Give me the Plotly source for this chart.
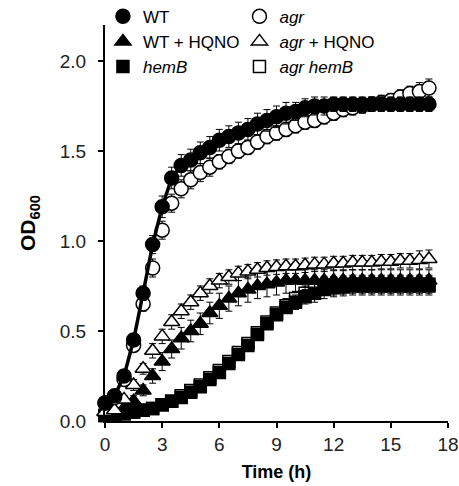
import plotly.graph_objects as go

time_h = [0, 0.5, 1, 1.5, 2, 2.5, 3, 3.5, 4, 4.5, 5, 5.5, 6, 6.5, 7, 7.5, 8, 8.5,
          9, 9.5, 10, 10.5, 11, 11.5, 12, 12.5, 13, 13.5, 14, 14.5, 15, 15.5, 16, 16.5, 17]

wt = [0.10, 0.14, 0.25, 0.45, 0.71, 0.98, 1.19, 1.35, 1.42, 1.45,
      1.49, 1.52, 1.56, 1.58, 1.60, 1.62, 1.65, 1.67, 1.69, 1.71,
      1.72, 1.74, 1.75, 1.75, 1.76, 1.76, 1.76, 1.76, 1.76, 1.76,
      1.76, 1.76, 1.76, 1.76, 1.76]
wt_err = [0.01, 0.01, 0.02, 0.03, 0.04, 0.05, 0.06, 0.06, 0.06, 0.06,
          0.06, 0.06, 0.06, 0.06, 0.06, 0.06, 0.06, 0.06, 0.06, 0.06,
          0.05, 0.05, 0.05, 0.05, 0.04, 0.04, 0.04, 0.04, 0.04, 0.04,
          0.04, 0.04, 0.04, 0.04, 0.04]

agr = [0.10, 0.13, 0.23, 0.42, 0.65, 0.85, 1.06, 1.21, 1.29, 1.34,
       1.38, 1.41, 1.44, 1.47, 1.50, 1.52, 1.55, 1.58, 1.60, 1.62,
       1.64, 1.66, 1.67, 1.69, 1.71, 1.73, 1.74, 1.75, 1.76, 1.77,
       1.78, 1.80, 1.82, 1.83, 1.85]
agr_err = [0.01, 0.01, 0.02, 0.03, 0.04, 0.05, 0.05, 0.05, 0.05, 0.05,
           0.05, 0.05, 0.04, 0.04, 0.04, 0.04, 0.04, 0.04, 0.04, 0.04,
           0.04, 0.04, 0.04, 0.04, 0.04, 0.04, 0.04, 0.04, 0.04, 0.04,
           0.04, 0.04, 0.04, 0.05, 0.05]

wt_hqno = [0.05, 0.05, 0.07, 0.11, 0.17, 0.25, 0.33, 0.40, 0.46, 0.50,
           0.54, 0.60, 0.64, 0.68, 0.71, 0.73, 0.75, 0.76, 0.77, 0.78,
           0.78, 0.78, 0.78, 0.78, 0.78, 0.78, 0.78, 0.78, 0.78, 0.78,
           0.78, 0.78, 0.78, 0.78, 0.78]
wt_hqno_err = [0.01, 0.01, 0.02, 0.03, 0.03, 0.04, 0.05, 0.05, 0.06, 0.06,
               0.06, 0.06, 0.07, 0.07, 0.07, 0.07, 0.07, 0.07, 0.07, 0.07,
               0.06, 0.06, 0.06, 0.06, 0.06, 0.06, 0.06, 0.06, 0.06, 0.06,
               0.06, 0.06, 0.06, 0.06, 0.06]

agr_hqno = [0.05, 0.06, 0.12, 0.20, 0.29, 0.39, 0.47, 0.55, 0.61, 0.66,
            0.71, 0.75, 0.78, 0.80, 0.82, 0.83, 0.84, 0.85, 0.855, 0.86,
            0.86, 0.865, 0.87, 0.87, 0.875, 0.875, 0.88, 0.88, 0.88, 0.885,
            0.885, 0.89, 0.89, 0.895, 0.90]
agr_hqno_err = [0.01, 0.01, 0.02, 0.03, 0.03, 0.04, 0.04, 0.04, 0.04, 0.04,
                0.04, 0.04, 0.04, 0.04, 0.04, 0.04, 0.04, 0.04, 0.04, 0.04,
                0.04, 0.04, 0.04, 0.04, 0.04, 0.04, 0.04, 0.04, 0.04, 0.04,
                0.04, 0.04, 0.04, 0.05, 0.05]

hemb = [0.03, 0.03, 0.04, 0.05, 0.06, 0.07, 0.09, 0.11, 0.13, 0.16,
        0.19, 0.23, 0.27, 0.32, 0.37, 0.42, 0.48, 0.54, 0.59, 0.63,
        0.66, 0.69, 0.71, 0.73, 0.74, 0.745, 0.75, 0.75, 0.75, 0.75,
        0.75, 0.75, 0.75, 0.75, 0.75]
hemb_err = [0.01, 0.01, 0.01, 0.01, 0.01, 0.01, 0.01, 0.01, 0.01, 0.01,
            0.01, 0.01, 0.01, 0.01, 0.02, 0.02, 0.02, 0.03, 0.03, 0.03,
            0.04, 0.04, 0.05, 0.05, 0.05, 0.05, 0.05, 0.05, 0.05, 0.05,
            0.05, 0.05, 0.05, 0.05, 0.05]

agr_hemb = [0.03, 0.03, 0.04, 0.05, 0.06, 0.07, 0.09, 0.11, 0.14, 0.17,
            0.20, 0.24, 0.28, 0.33, 0.38, 0.43, 0.49, 0.55, 0.60, 0.64,
            0.68, 0.71, 0.73, 0.75, 0.75, 0.755, 0.76, 0.76, 0.76, 0.76,
            0.76, 0.76, 0.76, 0.76, 0.76]
agr_hemb_err = [0.01, 0.01, 0.01, 0.01, 0.01, 0.01, 0.01, 0.01, 0.01, 0.01,
                0.01, 0.01, 0.02, 0.02, 0.02, 0.02, 0.03, 0.03, 0.03, 0.04,
                0.04, 0.04, 0.05, 0.05, 0.05, 0.05, 0.05, 0.05, 0.05, 0.05,
                0.05, 0.05, 0.05, 0.05, 0.05]

x_ticks = [0, 3, 6, 9, 12, 15, 18]
y_ticks = [0.0, 0.5, 1.0, 1.5, 2.0]

FONT = "Liberation Sans, Arial, sans-serif"
LEG_FONT = "Liberation Sans, Arial, sans-serif"

fig = go.Figure()


def add_series(name, y, err, symbol, filled, legend, rank, size=12):
    fig.add_trace(go.Scatter(
        x=time_h, y=y, name=name, mode="markers",
        marker=dict(symbol=symbol, size=size,
                    color="black" if filled else "white",
                    line=dict(color="black", width=1.5)),
        error_y=dict(type="data", array=err, visible=True,
                     color="black", thickness=1, width=3.5),
        cliponaxis=False, legend=legend, legendrank=rank,
        legendgroup=name,
    ))


add_series("<i>agr hemB</i>", agr_hemb, agr_hemb_err, "square", False, "legend2", 3, 12)
add_series("<i>hemB</i>", hemb, hemb_err, "square", True, "legend", 3, 12)
add_series("WT + HQNO", wt_hqno, wt_hqno_err, "triangle-up", True, "legend", 2, 14)
add_series("<i>agr</i> + HQNO", agr_hqno, agr_hqno_err, "triangle-up", False, "legend2", 2, 14)
add_series("<i>agr</i>", agr, agr_err, "circle", False, "legend2", 1, 14)
fig.add_trace(go.Scatter(x=time_h, y=wt, mode="lines", line=dict(color="black", width=3.5),
                         showlegend=False, cliponaxis=False, hoverinfo="skip"))
add_series("WT", wt, wt_err, "circle", True, "legend", 1, 14)

leg_common = dict(font=dict(family=LEG_FONT, size=17, color="black"),
                  bgcolor="rgba(0,0,0,0)", traceorder="grouped", tracegroupgap=0,
                  itemclick=False, xanchor="left", yanchor="top",
                  itemwidth=30)

PLOT_TOP = 5
fig.update_layout(
    width=459, height=486,
    margin=dict(l=105, r=11, t=PLOT_TOP, b=65, autoexpand=False),
    paper_bgcolor="white", plot_bgcolor="white",
    showlegend=True,
    legend=dict(x=-0.006, y=1.015, **leg_common),
    legend2=dict(x=0.392, y=1.015, **leg_common),
    xaxis=dict(range=[0, 18], tickvals=x_ticks, ticktext=[str(v) for v in x_ticks],
               showline=True, linecolor="black", linewidth=2, ticks="outside",
               ticklen=5, tickwidth=2, tickcolor="black", showgrid=False, zeroline=False,
               automargin=False, ticklabelstandoff=0,
               tickfont=dict(family=FONT, size=19, color="#222"),
               title=dict(text="<b>Time (h)</b>", font=dict(family=FONT, size=18, color="black"),
                          standoff=12)),
    yaxis=dict(range=[0, 2.2], domain=[0, 396 / 416], tickvals=y_ticks,
               ticktext=[f"{v:.1f}" for v in y_ticks],
               showline=True, linecolor="black", linewidth=2, ticks="outside",
               ticklen=5, tickwidth=2, tickcolor="black", showgrid=False, zeroline=False,
               automargin=False, ticklabelstandoff=8,
               tickfont=dict(family=FONT, size=19, color="#222"),
               title=dict(text="<b>OD<sub>600</sub></b>", font=dict(family=FONT, size=21, color="black"),
                          standoff=18)),
)

fig.write_html("out.html", config={"displayModeBar": False},
               post_script="document.body.style.margin='0px';document.body.style.overflow='hidden';")
